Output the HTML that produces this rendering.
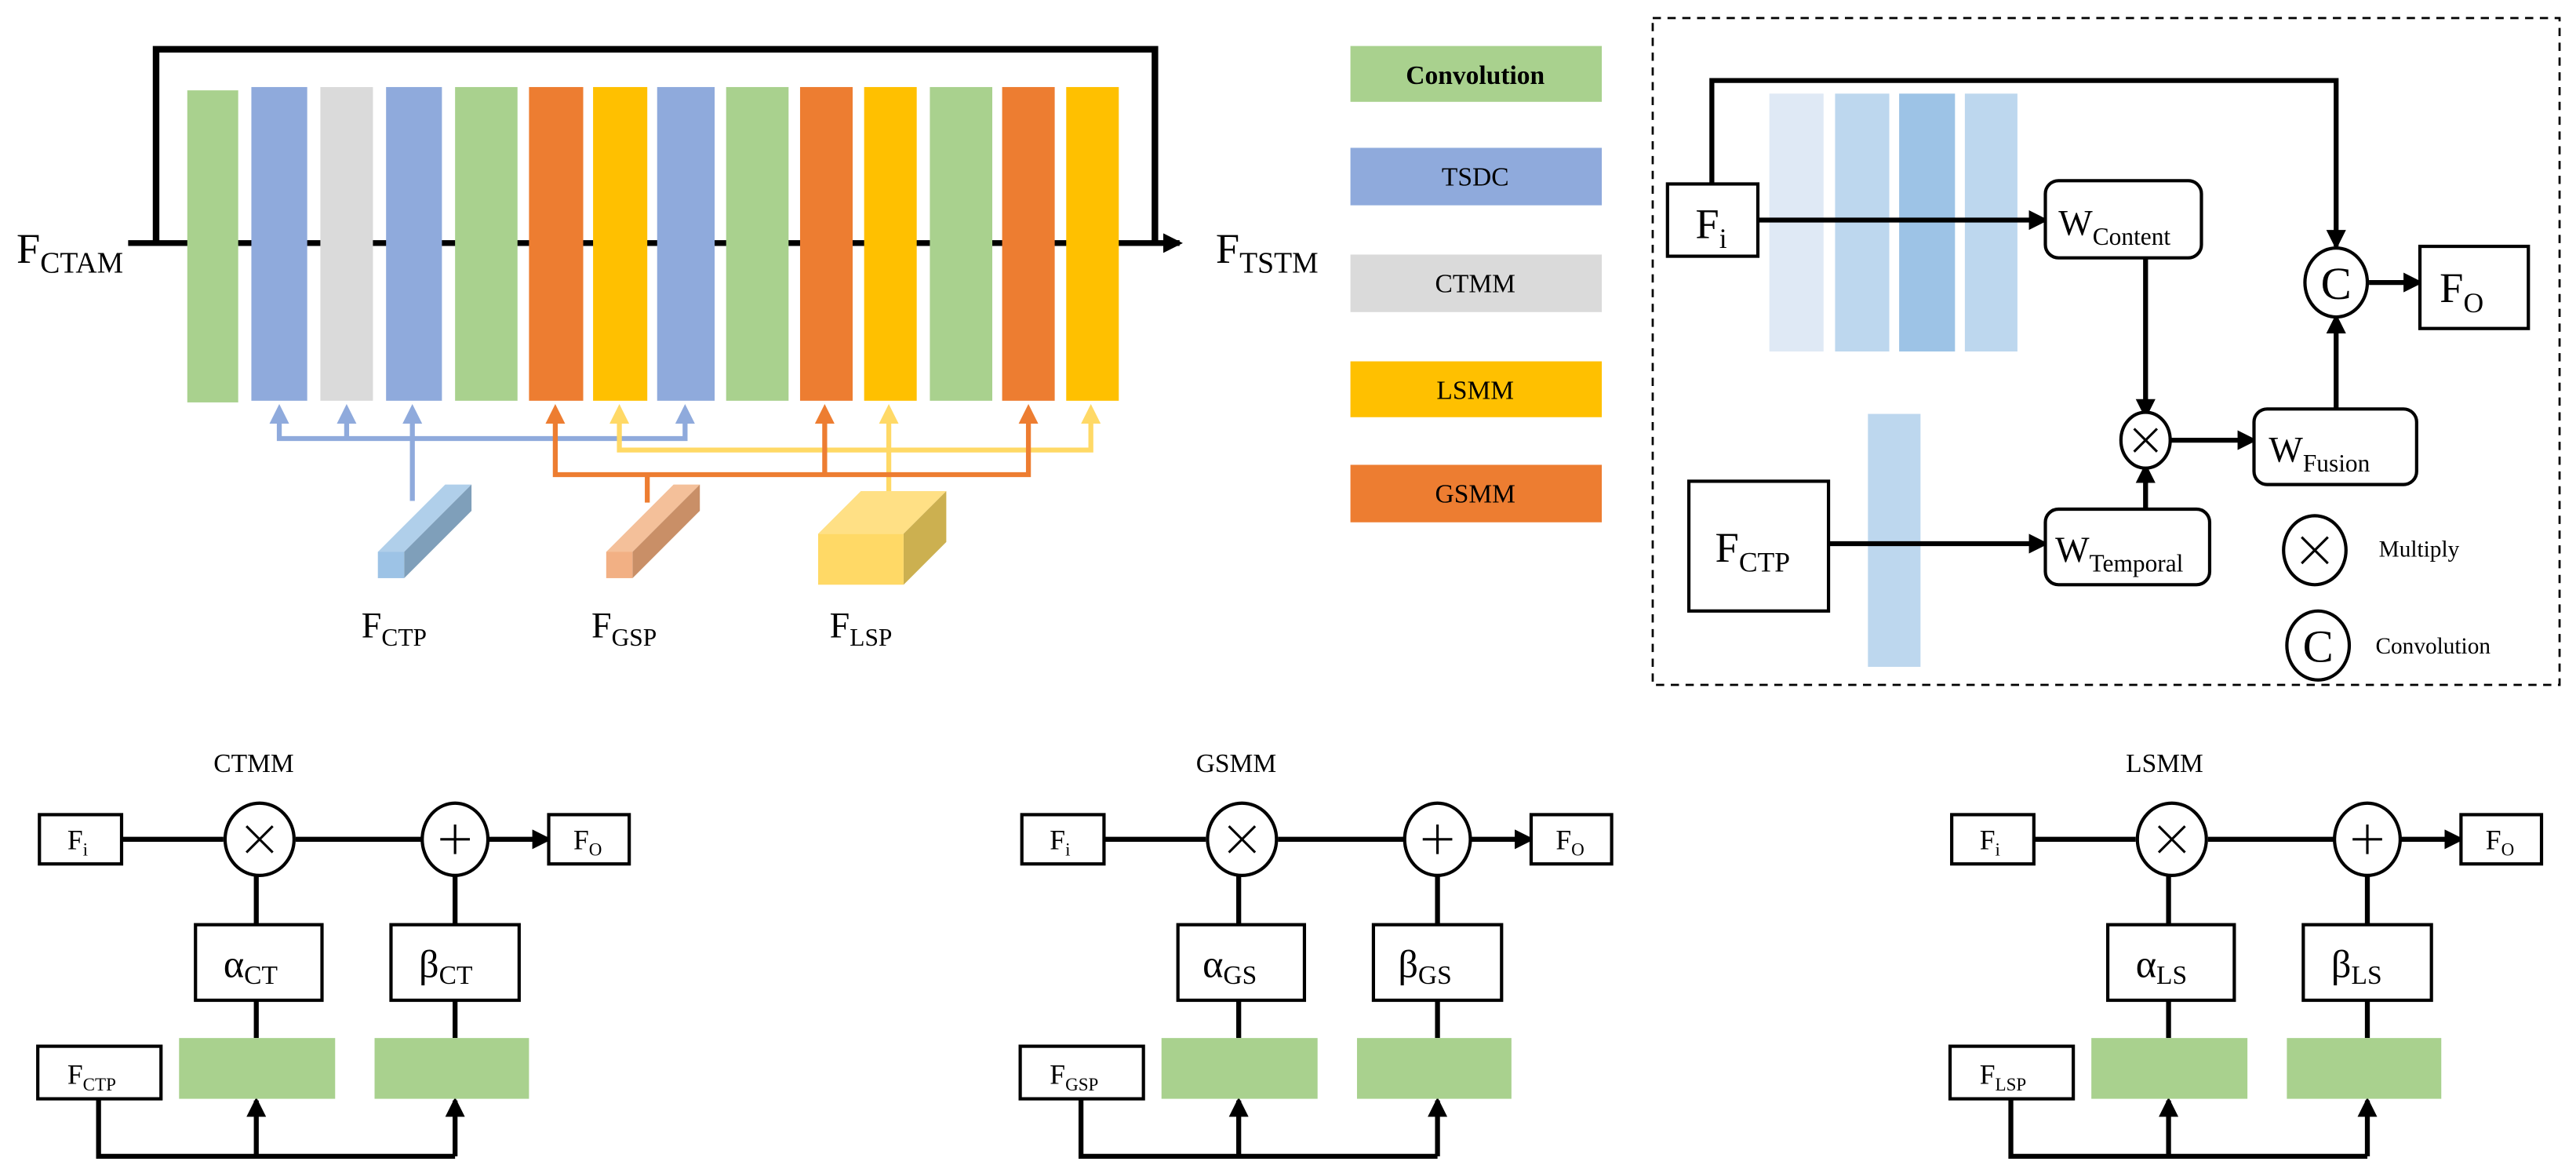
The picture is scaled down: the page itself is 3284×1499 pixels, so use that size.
<!DOCTYPE html>
<html><head><meta charset="utf-8"><style>
html,body{margin:0;padding:0;background:#fff;}
svg{display:block;font-family:"Liberation Serif",serif;}
svg text, svg tspan{font-family:"Liberation Serif",serif !important;fill:#000;}
</style></head><body>
<svg width="3284" height="1499" viewBox="0 0 1568 716" preserveAspectRatio="none" xmlns="http://www.w3.org/2000/svg" font-family="Liberation Serif, serif">
<defs>
<marker id="ab" markerWidth="12" markerHeight="12" refX="6" refY="6" orient="auto" markerUnits="userSpaceOnUse"><path d="M0,0 L12,6 L0,12z" fill="#8faadc"/></marker>
<marker id="ao" markerWidth="12" markerHeight="12" refX="6" refY="6" orient="auto" markerUnits="userSpaceOnUse"><path d="M0,0 L12,6 L0,12z" fill="#ed7d31"/></marker>
<marker id="ay" markerWidth="12" markerHeight="12" refX="6" refY="6" orient="auto" markerUnits="userSpaceOnUse"><path d="M0,0 L12,6 L0,12z" fill="#ffd966"/></marker>
<marker id="am" markerWidth="12" markerHeight="12" refX="10" refY="6" orient="auto" markerUnits="userSpaceOnUse"><path d="M0,0 L12,6 L0,12z" fill="#000"/></marker>
</defs>

<polyline points="95,148 95,30 703,30 703,148" fill="none" stroke="#000" stroke-width="4"/>
<line x1="78" y1="148" x2="718" y2="148" stroke="#000" stroke-width="3.5" marker-end="url(#am)"/>
<g>
<rect x="114" y="55" width="31" height="190" fill="#a9d18e"/>
<rect x="153" y="53" width="34" height="191" fill="#8faadc"/>
<rect x="195" y="53" width="32" height="191" fill="#dadada"/>
<rect x="235" y="53" width="34" height="191" fill="#8faadc"/>
<rect x="277" y="53" width="38" height="191" fill="#a9d18e"/>
<rect x="322" y="53" width="33" height="191" fill="#ed7d31"/>
<rect x="361" y="53" width="33" height="191" fill="#ffc000"/>
<rect x="400" y="53" width="35" height="191" fill="#8faadc"/>
<rect x="442" y="53" width="38" height="191" fill="#a9d18e"/>
<rect x="487" y="53" width="32" height="191" fill="#ed7d31"/>
<rect x="526" y="53" width="32" height="191" fill="#ffc000"/>
<rect x="566" y="53" width="38" height="191" fill="#a9d18e"/>
<rect x="610" y="53" width="32" height="191" fill="#ed7d31"/>
<rect x="649" y="53" width="32" height="191" fill="#ffc000"/>
</g>
<text x="10" y="160" font-size="26">F<tspan font-size="18" dy="6">CTAM</tspan></text>
<text x="740" y="160" font-size="26">F<tspan font-size="18" dy="6">TSTM</tspan></text>

<g fill="none" stroke-width="3">
<polyline points="170,254 170,267 417,267 417,254" stroke="#8faadc"/>
<line x1="170" y1="254" x2="170" y2="252" stroke="#8faadc" marker-end="url(#ab)"/>
<line x1="211" y1="267" x2="211" y2="252" stroke="#8faadc" marker-end="url(#ab)"/>
<line x1="417" y1="256" x2="417" y2="252" stroke="#8faadc" marker-end="url(#ab)"/>
<line x1="251" y1="305" x2="251" y2="252" stroke="#8faadc" marker-end="url(#ab)"/>
<polyline points="377,254 377,274 664,274 664,254" stroke="#ffd966"/>
<line x1="377" y1="256" x2="377" y2="252" stroke="#ffd966" marker-end="url(#ay)"/>
<line x1="664" y1="256" x2="664" y2="252" stroke="#ffd966" marker-end="url(#ay)"/>
<line x1="541" y1="300" x2="541" y2="252" stroke="#ffd966" marker-end="url(#ay)"/>
<polyline points="338,254 338,289 626,289 626,254" stroke="#ed7d31"/>
<line x1="338" y1="256" x2="338" y2="252" stroke="#ed7d31" marker-end="url(#ao)"/>
<line x1="626" y1="256" x2="626" y2="252" stroke="#ed7d31" marker-end="url(#ao)"/>
<line x1="502" y1="289" x2="502" y2="252" stroke="#ed7d31" marker-end="url(#ao)"/>
<line x1="394" y1="289" x2="394" y2="306" stroke="#ed7d31"/>
</g>
<polygon points="230,336 271,295 287,295 246,336" fill="#b0cfea"/>
<polygon points="246,336 287,295 287,311 246,352" fill="#7f9fba"/>
<rect x="230" y="336" width="16" height="16" fill="#9dc3e6"/>
<polygon points="369,336 410,295 426,295 385,336" fill="#f4c09a"/>
<polygon points="385,336 426,295 426,311 385,352" fill="#c98f67"/>
<rect x="369" y="336" width="16" height="16" fill="#f2b084"/>
<polygon points="498,325 524,299 576,299 550,325" fill="#ffe085"/>
<polygon points="550,325 576,299 576,330 550,356" fill="#ccb050"/>
<rect x="498" y="325" width="52" height="31" fill="#ffd966"/>
<text x="220" y="388" font-size="22">F<tspan font-size="15" dy="5">CTP</tspan></text>
<text x="360" y="388" font-size="22">F<tspan font-size="15" dy="5">GSP</tspan></text>
<text x="505" y="388" font-size="22">F<tspan font-size="15" dy="5">LSP</tspan></text>

<g font-size="16" text-anchor="middle">
<rect x="822" y="28" width="153" height="34" fill="#a9d18e"/><text x="898" y="51" font-weight="bold">Convolution</text>
<rect x="822" y="90" width="153" height="35" fill="#8faadc"/><text x="898" y="113">TSDC</text>
<rect x="822" y="155" width="153" height="35" fill="#dadada"/><text x="898" y="178">CTMM</text>
<rect x="822" y="220" width="153" height="34" fill="#ffc000"/><text x="898" y="243">LSMM</text>
<rect x="822" y="283" width="153" height="35" fill="#ed7d31"/><text x="898" y="306">GSMM</text>
</g>

<rect x="1006" y="11" width="552" height="406" fill="none" stroke="#000" stroke-width="1.3" stroke-dasharray="5,4"/>
<rect x="1077" y="57" width="33" height="157" fill="#dfe9f5"/>
<rect x="1117" y="57" width="33" height="157" fill="#bdd7ee"/>
<rect x="1156" y="57" width="34" height="157" fill="#9dc3e6"/>
<rect x="1196" y="57" width="32" height="157" fill="#bdd7ee"/>
<rect x="1137" y="252" width="32" height="154" fill="#bdd7ee"/>
<g fill="none" stroke="#000" stroke-width="3">
<polyline points="1042,112 1042,49 1422,49 1422,150" marker-end="url(#am)"/>
<line x1="1070" y1="134" x2="1245" y2="134" marker-end="url(#am)"/>
<line x1="1306" y1="157" x2="1306" y2="253" marker-end="url(#am)"/>
<line x1="1113" y1="331" x2="1245" y2="331" marker-end="url(#am)"/>
<line x1="1306" y1="310" x2="1306" y2="284" marker-end="url(#am)"/>
<line x1="1321" y1="268" x2="1372" y2="268" marker-end="url(#am)"/>
<line x1="1422" y1="249" x2="1422" y2="193" marker-end="url(#am)"/>
<line x1="1442" y1="172" x2="1473" y2="172" marker-end="url(#am)"/>
</g>
<g fill="#fff" stroke="#000" stroke-width="2">
<rect x="1015" y="112" width="55" height="44"/>
<rect x="1245" y="110" width="95" height="47" rx="8"/>
<rect x="1245" y="310" width="100" height="46" rx="8"/>
<rect x="1372" y="249" width="99" height="46" rx="8"/>
<rect x="1473" y="150" width="66" height="50"/>
<rect x="1028" y="293" width="85" height="79"/>
<ellipse cx="1306" cy="268" rx="15" ry="17"/>
<ellipse cx="1422" cy="172" rx="19" ry="21"/>
<ellipse cx="1409" cy="335" rx="19" ry="21"/>
<ellipse cx="1411" cy="393" rx="19" ry="21"/>
</g>
<g stroke="#000" stroke-width="1.5">
<line x1="1299" y1="261" x2="1313" y2="275"/><line x1="1313" y1="261" x2="1299" y2="275"/>
<line x1="1401" y1="327" x2="1417" y2="343"/><line x1="1417" y1="327" x2="1401" y2="343"/>
</g>
<text x="1422" y="182" font-size="28" text-anchor="middle">C</text>
<text x="1411" y="403" font-size="28" text-anchor="middle">C</text>
<text x="1032" y="145" font-size="26">F<tspan font-size="17" dy="6">i</tspan></text>
<text x="1253" y="143" font-size="22">W<tspan font-size="15" dy="6">Content</tspan></text>
<text x="1251" y="342" font-size="22">W<tspan font-size="15" dy="6">Temporal</tspan></text>
<text x="1381" y="281" font-size="22">W<tspan font-size="15" dy="6">Fusion</tspan></text>
<text x="1485" y="184" font-size="26">F<tspan font-size="17" dy="6">O</tspan></text>
<text x="1044" y="342" font-size="26">F<tspan font-size="17" dy="6">CTP</tspan></text>
<text x="1448" y="339" font-size="14">Multiply</text>
<text x="1446" y="398" font-size="14">Convolution</text>

<g id="m1">
<g fill="none" stroke="#000" stroke-width="3">
<line x1="74" y1="511" x2="136" y2="511"/>
<line x1="180" y1="511" x2="257" y2="511"/>
<line x1="297" y1="511" x2="334" y2="511" marker-end="url(#am)"/>
<line x1="156" y1="533" x2="156" y2="563"/>
<line x1="277" y1="531" x2="277" y2="563"/>
<line x1="156" y1="609" x2="156" y2="632"/>
<line x1="277" y1="609" x2="277" y2="632"/>
<polyline points="60,669 60,704 277,704"/>
<line x1="156" y1="704" x2="156" y2="670" marker-end="url(#am)"/>
<line x1="277" y1="704" x2="277" y2="670" marker-end="url(#am)"/>
</g>
<rect x="109" y="632" width="95" height="37" fill="#a9d18e"/>
<rect x="228" y="632" width="94" height="37" fill="#a9d18e"/>
<g fill="#fff" stroke="#000" stroke-width="2">
<rect x="24" y="496" width="50" height="30"/>
<rect x="334" y="496" width="49" height="30"/>
<rect x="119" y="563" width="77" height="46"/>
<rect x="238" y="563" width="78" height="46"/>
<rect x="23" y="637" width="75" height="32"/>
<ellipse cx="158" cy="511" rx="21" ry="22"/>
<ellipse cx="277" cy="511" rx="20" ry="22"/>
</g>
<g stroke="#000" stroke-width="1.5">
<line x1="150" y1="503" x2="166" y2="519"/><line x1="166" y1="503" x2="150" y2="519"/>
<line x1="268" y1="511" x2="286" y2="511"/><line x1="277" y1="502" x2="277" y2="520"/>
</g>
<text x="41" y="517" font-size="17">F<tspan font-size="11" dy="4">i</tspan></text>
<text x="349" y="517" font-size="17">F<tspan font-size="11" dy="4">O</tspan></text>
</g>
<use href="#m1" transform="translate(598,0)"/>
<use href="#m1" transform="translate(1164,0)"/>

<g font-size="16">
<text x="130" y="470">CTMM</text>
<text x="728" y="470">GSMM</text>
<text x="1294" y="470">LSMM</text>
</g>
<g font-size="17">
<text x="41" y="660">F<tspan font-size="11" dy="4">CTP</tspan></text>
<text x="639" y="660">F<tspan font-size="11" dy="4">GSP</tspan></text>
<text x="1205" y="660">F<tspan font-size="11" dy="4">LSP</tspan></text>
</g>
<g font-size="24">
<text x="136" y="595">α<tspan font-size="16" dy="4">CT</tspan></text>
<text x="255" y="595">β<tspan font-size="16" dy="4">CT</tspan></text>
<text x="732" y="595">α<tspan font-size="16" dy="4">GS</tspan></text>
<text x="851" y="595">β<tspan font-size="16" dy="4">GS</tspan></text>
<text x="1300" y="595">α<tspan font-size="16" dy="4">LS</tspan></text>
<text x="1419" y="595">β<tspan font-size="16" dy="4">LS</tspan></text>
</g>
</svg>
</body></html>
